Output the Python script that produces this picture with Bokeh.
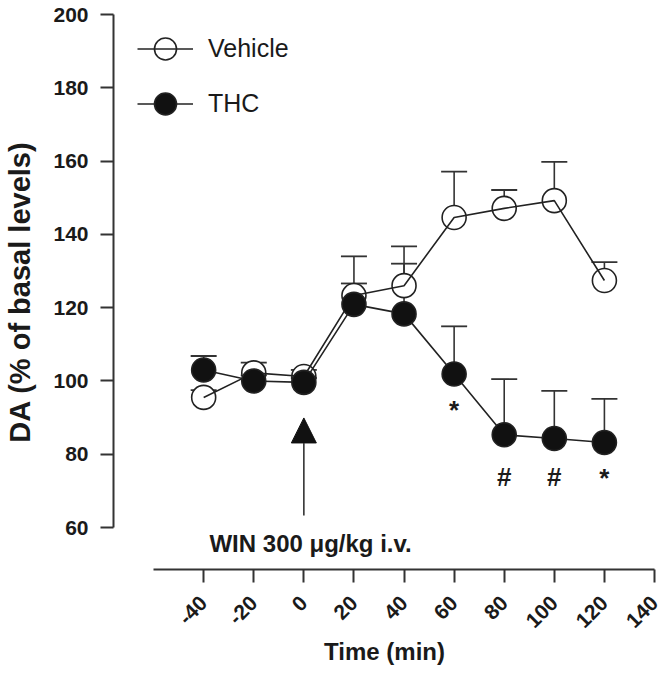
import math
from bokeh.plotting import figure
from bokeh.models import (ColumnDataSource, Range1d, FixedTicker, Whisker, TeeHead,
                          Arrow, NormalHead, Label, Legend, LegendItem)
from bokeh.core.properties import value
from bokeh.embed import file_html
from bokeh.resources import INLINE

# ---- data ----
time_min = [-40, -20, 0, 20, 40, 60, 80, 100, 120]
vehicle_mean = [95.5, 102.2, 101.2, 123.3, 126.0, 144.6, 147.1, 149.2, 127.4]
vehicle_sem = [2.0, 2.8, 1.8, 10.7, 10.7, 12.5, 5.0, 10.6, 5.0]
thc_mean = [103.0, 100.0, 99.6, 120.9, 118.3, 101.9, 85.3, 84.3, 83.2]
thc_sem = [3.8, 1.5, 1.2, 5.7, 13.7, 13.0, 15.2, 13.0, 11.9]

sig_time = [60, 80, 100, 120]
sig_y = [92.0, 73.7, 73.7, 73.6]
sig_text = ["*", "#", "#", "*"]

x_ticks = [-40, -20, 0, 20, 40, 60, 80, 100, 120, 140]
x_tick_labels = {-40: "-40", -20: "-20"}
y_ticks = [60, 80, 100, 120, 140, 160, 180, 200]

arrow_time = 0
arrow_from = 63.3
arrow_to = 89.9
annot_x = 2.7
annot_y = 55.6
annot_text = "WIN 300 \u03bcg/kg i.v."
y_title = "DA (% of basal levels)"
x_title = "Time (min)"

FONT = "Liberation Sans"
INK = "#1a1a1a"

veh_src = ColumnDataSource(dict(t=time_min, m=vehicle_mean,
                                up=[m + s for m, s in zip(vehicle_mean, vehicle_sem)]))
thc_src = ColumnDataSource(dict(t=time_min, m=thc_mean,
                                up=[m + s for m, s in zip(thc_mean, thc_sem)]))

p = figure(width=662, height=676, x_range=Range1d(-76, 140.4), y_range=Range1d(48.54, 200),
           output_backend="svg", toolbar_location=None,
           min_border_left=113, min_border_right=7, min_border_top=14, min_border_bottom=107)
p.xgrid.visible = False
p.ygrid.visible = False
p.outline_line_color = None
p.background_fill_color = "white"

# axes
for ax in (p.xaxis[0], p.yaxis[0]):
    ax.axis_line_width = 2
    ax.axis_line_color = "#333333"
    ax.major_tick_line_width = 2
    ax.major_tick_line_color = "#333333"
    ax.major_tick_out = 13
    ax.major_tick_in = 0
    ax.minor_tick_out = 0
    ax.minor_tick_in = 0
    ax.major_label_text_font = FONT
    ax.major_label_text_font_style = "bold"
    ax.major_label_text_color = INK
    ax.axis_label_text_font = FONT
    ax.axis_label_text_font_style = "bold"
    ax.axis_label_text_color = INK

xa = p.xaxis[0]
xa.ticker = FixedTicker(ticks=x_ticks)
xa.major_label_overrides = x_tick_labels
xa.bounds = (-60, 140)
xa.major_label_orientation = math.pi / 4
xa.major_label_text_font_size = "21px"
xa.major_label_standoff = 17
xa.axis_label = x_title
xa.axis_label_text_font_size = "24px"
xa.axis_label_standoff = 1

ya = p.yaxis[0]
ya.ticker = FixedTicker(ticks=y_ticks)
ya.bounds = (60, 200)
ya.major_label_text_font_size = "21px"
ya.major_label_standoff = 12
ya.axis_label = y_title
ya.axis_label_text_font_size = "29px"
ya.axis_label_standoff = 14

# error bars (upper only)
for src in (veh_src, thc_src):
    w = Whisker(base="t", upper="up", lower="m", source=src, dimension="height",
                line_width=1.6, line_color="#333333", level="underlay",
                upper_head=TeeHead(size=26, line_width=1.8, line_color="#333333"),
                lower_head=None)
    p.add_layout(w)

veh_sc = p.scatter("t", "m", source=veh_src, size=24, fill_color="white",
                   line_color="#222222", line_width=1.6)
veh_ln = p.line("t", "m", source=veh_src, line_color="#222222", line_width=1.6)
thc_ln = p.line("t", "m", source=thc_src, line_color="#222222", line_width=1.6)
thc_sc = p.scatter("t", "m", source=thc_src, size=24, fill_color="#111111",
                   line_color="#222222", line_width=1.6)

# significance marks
p.text(x=sig_time, y=sig_y, text=sig_text, text_font=value(FONT),
       text_font_style="bold", text_font_size="26px", text_align="center",
       text_baseline="middle", text_color=INK)

# injection arrow and label
p.add_layout(Arrow(end=NormalHead(size=25, fill_color="#111111", line_color="#111111"),
                   x_start=arrow_time, y_start=arrow_from, x_end=arrow_time, y_end=arrow_to,
                   line_width=1.6, line_color="#333333"))
p.add_layout(Label(x=annot_x, y=annot_y, text=annot_text, text_font=FONT,
                   text_font_style="bold", text_font_size="24px", text_align="center",
                   text_baseline="middle", text_color=INK))

legend = Legend(items=[LegendItem(label="Vehicle", renderers=[veh_sc, veh_ln]),
                       LegendItem(label="THC", renderers=[thc_ln, thc_sc])],
                location=(24, 438), glyph_width=56, glyph_height=55, spacing=0,
                padding=0, margin=0, label_standoff=15,
                label_text_font=FONT, label_text_font_size="25px", label_text_color=INK,
                border_line_color=None, background_fill_alpha=0)
p.add_layout(legend)

open("out.html", "w").write(file_html(p, INLINE))
